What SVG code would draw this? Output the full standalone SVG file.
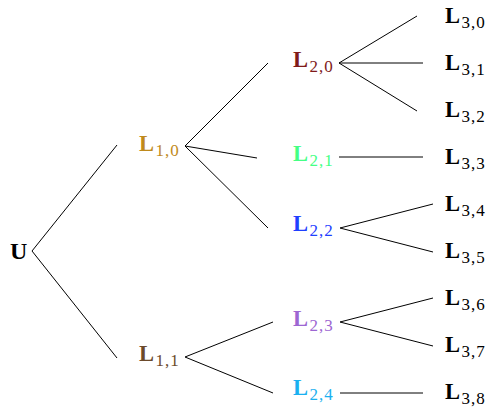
<svg xmlns="http://www.w3.org/2000/svg" width="491" height="407" viewBox="0 0 491 407">
<style>
.bg{fill:#ffffff}
text{font-family:"Liberation Serif","Times New Roman",serif}
.m{font-weight:bold;font-size:22.5px}
.s{font-size:17px;letter-spacing:1px}
.e{stroke:#000;stroke-width:1;fill:none}
</style>
<rect class="bg" x="0" y="0" width="491" height="407"/>
<g id="connectors">
<path class="e" d="M32 251L117 145M32 251L117 358"/>
<path class="e" d="M185 146L268 63M185 146L257 158M185 146L268 228"/>
<path class="e" d="M185 357L273 322M185 357L273 393"/>
<path class="e" d="M339 63L417 16M339 63L423 63M339 63L417 111"/>
<path class="e" d="M339 157L423 157"/>
<path class="e" d="M340 228L433 204M340 228L433 252"/>
<path class="e" d="M340 322L433 298M340 322L433 346"/>
<path class="e" d="M340 393L423 393"/>
</g>
<g id="U"><text x="10" y="259" class="m" style="font-size:24px">U</text></g>
<g id="L10" fill="#bf8a1c"><text x="139" y="151"><tspan class="m">L</tspan><tspan class="s" x="155.5" y="156">1,0</tspan></text></g>
<g id="L11" fill="#6b4a2b"><text x="139" y="361"><tspan class="m">L</tspan><tspan class="s" x="155.5" y="366">1,1</tspan></text></g>
<g id="L20" fill="#801a1a"><text x="293" y="67"><tspan class="m">L</tspan><tspan class="s" x="309.5" y="72">2,0</tspan></text></g>
<g id="L21" fill="#45ff85"><text x="293" y="161"><tspan class="m">L</tspan><tspan class="s" x="309.5" y="166">2,1</tspan></text></g>
<g id="L22" fill="#1f40ff"><text x="293" y="231"><tspan class="m">L</tspan><tspan class="s" x="309.5" y="236">2,2</tspan></text></g>
<g id="L23" fill="#9d66d2"><text x="293" y="326"><tspan class="m">L</tspan><tspan class="s" x="309.5" y="331">2,3</tspan></text></g>
<g id="L24" fill="#1ab0f0"><text x="293" y="395"><tspan class="m">L</tspan><tspan class="s" x="309.5" y="400">2,4</tspan></text></g>
<g id="L30"><text x="445" y="23"><tspan class="m">L</tspan><tspan class="s" x="461.5" y="28">3,0</tspan></text></g>
<g id="L31"><text x="445" y="70"><tspan class="m">L</tspan><tspan class="s" x="461.5" y="75">3,1</tspan></text></g>
<g id="L32"><text x="445" y="117"><tspan class="m">L</tspan><tspan class="s" x="461.5" y="122">3,2</tspan></text></g>
<g id="L33"><text x="445" y="164"><tspan class="m">L</tspan><tspan class="s" x="461.5" y="169">3,3</tspan></text></g>
<g id="L34"><text x="445" y="211"><tspan class="m">L</tspan><tspan class="s" x="461.5" y="216">3,4</tspan></text></g>
<g id="L35"><text x="445" y="258"><tspan class="m">L</tspan><tspan class="s" x="461.5" y="263">3,5</tspan></text></g>
<g id="L36"><text x="445" y="305"><tspan class="m">L</tspan><tspan class="s" x="461.5" y="310">3,6</tspan></text></g>
<g id="L37"><text x="445" y="352"><tspan class="m">L</tspan><tspan class="s" x="461.5" y="357">3,7</tspan></text></g>
<g id="L38"><text x="445" y="399"><tspan class="m">L</tspan><tspan class="s" x="461.5" y="404">3,8</tspan></text></g>
</svg>
